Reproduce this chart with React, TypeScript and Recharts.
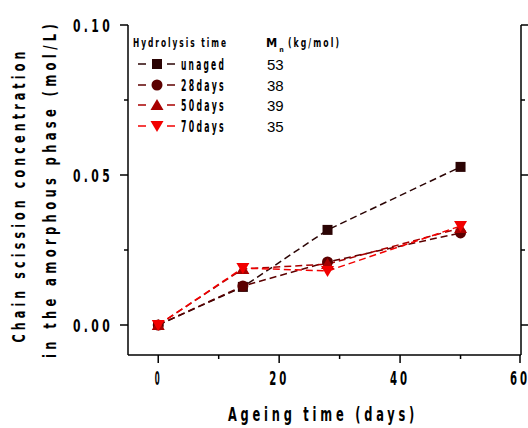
import React from "react";
import { LineChart, Line, XAxis, YAxis } from "recharts";

// ageing time (days) and chain scission concentration (mol/L)
const days = [0, 14, 28, 50];
const unaged = [0, 0.0127, 0.0317, 0.0527];
const days28 = [0, 0.013, 0.021, 0.0307];
const days50 = [0, 0.0187, 0.0203, 0.0323];
const days70 = [0, 0.019, 0.018, 0.033];

const seriesNames = ["unaged", "28days", "50days", "70days"];
const mnValues = ["53", "38", "39", "35"];

const xTicks = [0, 10, 20, 30, 40, 50, 60];
const yTicks = [0, 0.025, 0.05, 0.075, 0.1];
const yTickLabels = ["0.00", "", "0.05", "", "0.10"];

const NARROW = "'DejaVu Sans Condensed', 'Liberation Sans', sans-serif";

const SERIES = [
  { key: "unaged", color: "#2b0404", marker: "square" },
  { key: "d28", color: "#5c0000", marker: "circle" },
  { key: "d50", color: "#a80000", marker: "triangle" },
  { key: "d70", color: "#f20000", marker: "down" },
];

const rows = days.map((d, i) => ({
  day: d,
  unaged: unaged[i],
  d28: days28[i],
  d50: days50[i],
  d70: days70[i],
}));

// squeezed, letter-spaced bold text, like the Origin export
function Narrow({ children, len, size, spacing = 3, ...rest }: any) {
  return (
    <text
      fontFamily={NARROW}
      fontWeight={700}
      fontSize={size}
      letterSpacing={spacing}
      textLength={len}
      lengthAdjust="spacingAndGlyphs"
      fill="#000"
      {...rest}
    >
      {children}
    </text>
  );
}

function Marker({ cx, cy, kind, color }: { cx: number; cy: number; kind: string; color: string }) {
  if (kind === "square")
    return <rect x={cx - 5} y={cy - 5} width={10} height={10} fill={color} />;
  if (kind === "circle") return <circle cx={cx} cy={cy} r={5.5} fill={color} />;
  if (kind === "triangle")
    return (
      <polygon
        points={`${cx},${cy - 6} ${cx + 6.5},${cy + 5} ${cx - 6.5},${cy + 5}`}
        fill={color}
      />
    );
  return (
    <polygon
      points={`${cx},${cy + 6} ${cx + 6.5},${cy - 5} ${cx - 6.5},${cy - 5}`}
      fill={color}
    />
  );
}

function BottomTick({ x, y, payload, index }: any) {
  const major = index % 2 === 0;
  const label = String(payload.value);
  return (
    <g>
      <line x1={x} x2={x} y1={y} y2={y + (major ? 8 : 4)} stroke="#000" strokeWidth={1.5} />
      {major && (
        <Narrow x={x} y={y + 30} textAnchor="middle" size={19} len={label.length > 1 ? 20 : 7} spacing={5}>
          {label}
        </Narrow>
      )}
    </g>
  );
}

function TopTick({ x, y, index }: any) {
  const major = index % 2 === 0;
  return <line x1={x} x2={x} y1={y} y2={y - (major ? 8 : 4)} stroke="#000" strokeWidth={1.5} />;
}

function LeftTick({ x, y, index }: any) {
  const major = index % 2 === 0;
  return (
    <g>
      <line x1={x - (major ? 8 : 4)} x2={x} y1={y} y2={y} stroke="#000" strokeWidth={1.5} />
      {major && (
        <Narrow x={x - 15} y={y + 6.5} textAnchor="end" size={18} len={40} spacing={5}>
          {yTickLabels[index]}
        </Narrow>
      )}
    </g>
  );
}

function RightTick({ x, y, index }: any) {
  const major = index % 2 === 0;
  return <line x1={x} x2={x + (major ? 8 : 4)} y1={y} y2={y} stroke="#000" strokeWidth={1.5} />;
}

const axisLine = { stroke: "#000", strokeWidth: 1.5 };

export default function App() {
  const rowY = [64, 85, 105, 126];
  return (
    <div style={{ position: "absolute", left: 0, top: 0, width: 528, height: 428, background: "#fff" }}>
      <LineChart
        width={528}
        height={428}
        data={rows}
        margin={{ top: 25, right: 0, bottom: 0, left: 0 }}
      >
        <XAxis
          dataKey="day"
          type="number"
          domain={[-5, 60]}
          ticks={xTicks}
          height={73}
          tickSize={0}
          tickMargin={0}
          tickLine={false}
          axisLine={axisLine}
          tick={<BottomTick />}
          allowDataOverflow
        />
        <XAxis
          xAxisId="top"
          orientation="top"
          dataKey="day"
          type="number"
          domain={[-5, 60]}
          ticks={xTicks}
          height={0}
          tickSize={0}
          tickMargin={0}
          tickLine={false}
          axisLine={axisLine}
          tick={<TopTick />}
          allowDataOverflow
        />
        <YAxis
          type="number"
          domain={[-0.01, 0.1]}
          ticks={yTicks}
          width={128}
          tickSize={0}
          tickMargin={0}
          tickLine={false}
          axisLine={axisLine}
          tick={<LeftTick />}
          allowDataOverflow
        />
        <YAxis
          yAxisId="right"
          orientation="right"
          type="number"
          domain={[-0.01, 0.1]}
          ticks={yTicks}
          width={7}
          tickSize={0}
          tickMargin={0}
          tickLine={false}
          axisLine={axisLine}
          tick={<RightTick />}
          allowDataOverflow
        />
        {SERIES.map((s) => (
          <Line
            key={s.key}
            dataKey={s.key}
            type="linear"
            stroke={s.color}
            strokeWidth={1.5}
            strokeDasharray="7 4"
            isAnimationActive={false}
            dot={(p: any) => (
              <Marker key={`${s.key}-${p.index}`} cx={p.cx} cy={p.cy} kind={s.marker} color={s.color} />
            )}
            activeDot={false}
          />
        ))}
      </LineChart>
      <svg
        width={528}
        height={428}
        style={{ position: "absolute", left: 0, top: 0, pointerEvents: "none" }}
      >
        {/* axis titles */}
        <Narrow transform="translate(25,195) rotate(-90)" textAnchor="middle" size={18} len={295} spacing={6}>
          Chain scission concentration
        </Narrow>
        <Narrow transform="translate(56,189) rotate(-90)" textAnchor="middle" size={18} len={338} spacing={6}>
          in the amorphous phase (mol/L)
        </Narrow>
        <Narrow x={323} y={421} textAnchor="middle" size={20} len={190} spacing={6}>
          Ageing time (days)
        </Narrow>

        {/* legend */}
        <Narrow x={133} y={47} size={12.5} len={95} spacing={3}>
          Hydrolysis time
        </Narrow>
        <text x={266} y={47} fontFamily={NARROW} fontWeight={700} fontSize={12.5} fill="#000">
          M
          <tspan fontSize={7} dx={2} dy={5}>n</tspan>
        </text>
        <Narrow x={288} y={47} size={12.5} len={53} spacing={3}>
          (kg/mol)
        </Narrow>
        {SERIES.map((s, i) => (
          <g key={s.key}>
            <line x1={138} x2={146} y1={rowY[i]} y2={rowY[i]} stroke={s.color} strokeWidth={1.5} />
            <Marker cx={157} cy={rowY[i]} kind={s.marker} color={s.color} />
            <line x1={167} x2={175} y1={rowY[i]} y2={rowY[i]} stroke={s.color} strokeWidth={1.5} />
            <Narrow x={181} y={rowY[i] + 5.5} size={15} len={45} spacing={4}>
              {seriesNames[i]}
            </Narrow>
            <text x={267} y={rowY[i] + 5.5} fontFamily="'Liberation Sans', Arial, sans-serif" fontSize={15}>
              {mnValues[i]}
            </text>
          </g>
        ))}
      </svg>
    </div>
  );
}
